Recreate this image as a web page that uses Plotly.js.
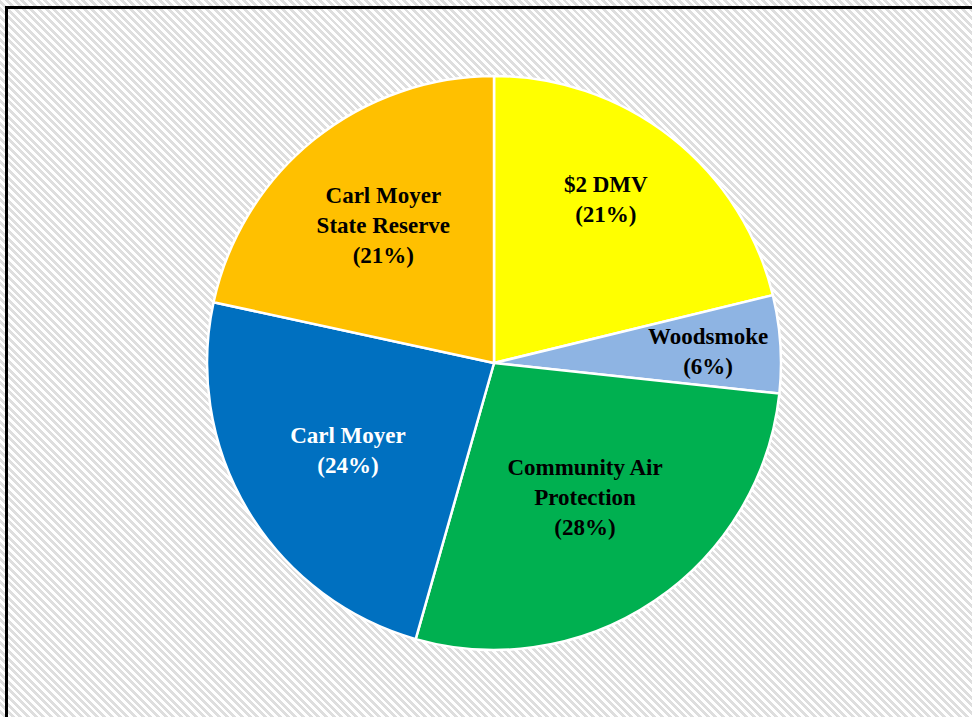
<!DOCTYPE html>
<html>
<head>
<meta charset="utf-8">
<script src="https://cdn.plot.ly/plotly-3.0.1.min.js"></script>
<style>
  html, body { margin: 0; padding: 0; width: 972px; height: 717px; overflow: hidden; }
  body {
    background: repeating-linear-gradient(45deg, #ffffff 0px, #ffffff 2.6px, #dedede 2.6px, #dedede 5.4px);
  }
  #frame {
    position: absolute; left: 5px; top: 6px; width: 1000px; height: 800px;
    border: 3px solid #000; box-sizing: border-box;
  }
  #chart { position: absolute; left: 0; top: 0; width: 972px; height: 717px; }
</style>
</head>
<body>
<div id="frame"></div>
<div id="chart"></div>
<script>
const categories = ["$2 DMV", "Woodsmoke", "Community Air Protection", "Carl Moyer", "Carl Moyer State Reserve"];
const shares = [21.2, 5.5, 27.7, 24.0, 21.6];
const labelTexts = ["$2 DMV<br>(21%)", "Woodsmoke<br>(6%)", "Community Air<br>Protection<br>(28%)", "Carl Moyer<br>(24%)", "Carl Moyer<br>State Reserve<br>(21%)"];
const sliceColors = ["#FFFF00", "#8EB4E3", "#00B050", "#0070C0", "#FFC000"];
const textColors = ["#000000", "#000000", "#000000", "#FFFFFF", "#000000"];

// Slices whose labels are placed as free annotations (label anchor in paper coords)
const annotatedLabels = { 0: [0.6235, 0.722], 1: [0.7284, 0.5095] };

const labelFont = { family: "Liberation Serif, Times New Roman, serif", size: 23, weight: "bold" };

const textPositions = categories.map((c, i) => (i in annotatedLabels) ? "none" : "inside");

const trace = {
  type: "pie",
  labels: categories,
  values: shares,
  text: labelTexts,
  textinfo: "text",
  texttemplate: "%{text}",
  hoverinfo: "label+percent",
  sort: false,
  direction: "clockwise",
  rotation: 0,
  marker: { colors: sliceColors, line: { color: "#ffffff", width: 2.5 } },
  textposition: textPositions,
  insidetextorientation: "horizontal",
  insidetextfont: Object.assign({}, labelFont, { color: textColors }),
  domain: { x: [0.213, 0.8035], y: [0.0934, 0.894] },
  showlegend: false
};

const annotations = Object.keys(annotatedLabels).map(k => ({
  xref: "paper", yref: "paper",
  x: annotatedLabels[k][0], y: annotatedLabels[k][1],
  xanchor: "center", yanchor: "middle",
  text: labelTexts[k],
  showarrow: false,
  align: "center",
  font: Object.assign({}, labelFont, { color: textColors[k] })
}));

const layout = {
  width: 972, height: 717,
  margin: { l: 0, r: 0, t: 0, b: 0 },
  paper_bgcolor: "rgba(0,0,0,0)",
  plot_bgcolor: "rgba(0,0,0,0)",
  showlegend: false,
  annotations: annotations
};

Plotly.newPlot("chart", [trace], layout, { displayModeBar: false, staticPlot: true });
</script>
</body>
</html>
